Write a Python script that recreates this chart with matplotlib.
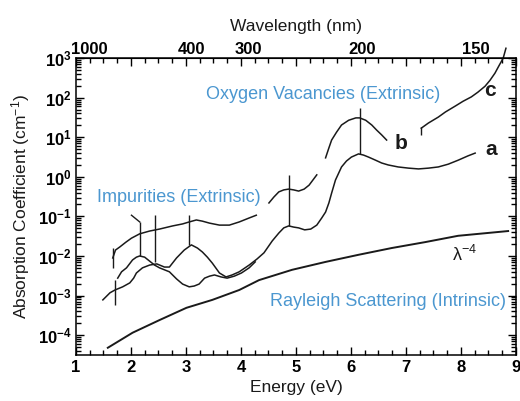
import numpy as np
import matplotlib
matplotlib.use('Agg')
import matplotlib.pyplot as plt
from matplotlib.ticker import MultipleLocator, LogLocator, NullFormatter

plt.rcParams['font.family'] = ['Liberation Sans', 'DejaVu Sans']
plt.rcParams['mathtext.fontset'] = 'custom'
plt.rcParams['mathtext.rm'] = 'Liberation Sans'
plt.rcParams['mathtext.bf'] = 'Liberation Sans:bold'
plt.rcParams['mathtext.it'] = 'Liberation Sans:italic'

# ---- data (energy in eV, log10 of absorption in cm^-1) ----
# Rayleigh scattering (lambda^-4)
ray_E = [1.58, 2.03, 2.52, 3.01, 3.48, 3.97, 4.33, 4.93, 5.54, 6.14, 6.74, 7.35, 7.95, 8.86]
ray_log = [-4.32, -3.94, -3.62, -3.31, -3.11, -2.86, -2.61, -2.35, -2.15, -1.97, -1.80, -1.65, -1.49, -1.37]

# curve a
a_E = [1.49, 1.62, 1.71, 1.85, 1.98, 2.05, 2.10, 2.21, 2.34, 2.47, 2.61, 2.70, 2.83, 2.97,
       3.10, 3.21, 3.30, 3.39, 3.48, 3.61, 3.73, 3.84, 3.97, 4.15, 4.29, 4.42, 4.57, 4.69,
       4.78, 4.87, 4.96, 5.05, 5.16, 5.27, 5.38, 5.47, 5.54, 5.60, 5.65, 5.72, 5.83, 5.92,
       6.01, 6.14, 6.23, 6.32, 6.45, 6.56, 6.68, 6.86, 7.05, 7.23, 7.41, 7.59, 7.77, 7.95,
       8.13, 8.26]
a_log = [-3.11, -2.93, -2.86, -2.78, -2.68, -2.56, -2.43, -2.30, -2.23, -2.20, -2.28, -2.28,
         -2.05, -1.85, -1.72, -1.80, -1.90, -2.03, -2.18, -2.43, -2.53, -2.48, -2.40, -2.23,
         -2.08, -1.92, -1.62, -1.42, -1.29, -1.24, -1.27, -1.29, -1.34, -1.32, -1.22, -1.04,
         -0.89, -0.66, -0.41, -0.08, 0.25, 0.40, 0.50, 0.58, 0.55, 0.50, 0.42, 0.35, 0.30,
         0.25, 0.22, 0.20, 0.22, 0.25, 0.32, 0.42, 0.53, 0.60]

# second low-energy spectrum (peak near 2.2 eV), joins curve a near 4.2 eV
d_E = [1.76, 1.83, 1.92, 2.03, 2.10, 2.16, 2.25, 2.34, 2.43, 2.52, 2.61, 2.70, 2.83, 2.94,
       3.06, 3.15, 3.24, 3.34, 3.43, 3.52, 3.64, 3.75, 3.88, 4.01, 4.15, 4.26]
d_log = [-2.56, -2.40, -2.30, -2.10, -2.03, -2.00, -2.03, -2.13, -2.23, -2.30, -2.35, -2.40,
         -2.58, -2.71, -2.78, -2.76, -2.71, -2.56, -2.51, -2.48, -2.53, -2.56, -2.51, -2.43,
         -2.30, -2.15]

# curve b (three measured pieces)
b1_E = [1.67, 1.72, 1.80, 1.91, 2.01, 2.16, 2.34, 2.52, 2.76, 2.94, 3.06, 3.19, 3.30, 3.43,
        3.61, 3.79, 3.97, 4.15, 4.28]
b1_log = [-2.05, -1.85, -1.77, -1.65, -1.55, -1.44, -1.37, -1.32, -1.24, -1.19, -1.14, -1.09,
          -1.12, -1.17, -1.22, -1.22, -1.14, -1.04, -0.97]
b2_E = [4.51, 4.60, 4.69, 4.78, 4.87, 4.96, 5.05, 5.15, 5.24, 5.31, 5.38]
b2_log = [-0.66, -0.51, -0.38, -0.33, -0.31, -0.33, -0.36, -0.31, -0.21, -0.08, 0.05]
b3_E = [5.54, 5.60, 5.65, 5.74, 5.83, 5.96, 6.09, 6.16, 6.27, 6.38, 6.47, 6.56, 6.65]
b3_log = [0.48, 0.73, 0.93, 1.13, 1.31, 1.43, 1.49, 1.49, 1.43, 1.31, 1.18, 1.06, 0.93]

# curve c
c_E = [7.28, 7.41, 7.59, 7.72, 7.90, 8.04, 8.19, 8.31, 8.44, 8.53, 8.62, 8.69, 8.77, 8.82]
c_log = [1.23, 1.36, 1.51, 1.64, 1.79, 1.91, 2.02, 2.14, 2.29, 2.44, 2.62, 2.80, 3.00, 3.25]

# vertical marker bars: energy, log top, log bottom
bar_E = [1.67, 1.71, 2.16, 2.43, 3.06, 4.87, 6.16, 7.28]
bar_top = [-1.80, -2.61, -1.14, -0.97, -0.97, 0.05, 1.74, 1.26]
bar_bot = [-2.30, -3.24, -2.00, -2.15, -1.72, -1.24, 0.58, 1.06]

wl_ticks = [1000, 400, 300, 200, 150]

fig = plt.figure(figsize=(5.2, 4.01), dpi=100)
ax = fig.add_axes([0.146, 0.115, 0.846, 0.74])

lc = '#1a1a1a'
ax.plot(ray_E, 10 ** np.array(ray_log), color=lc, lw=1.4)
ax.plot(a_E, 10 ** np.array(a_log), color=lc, lw=1.1)
ax.plot(d_E, 10 ** np.array(d_log), color=lc, lw=1.1)
for xs, ys in [(b1_E, b1_log), (b2_E, b2_log), (b3_E, b3_log)]:
    ax.plot(xs, 10 ** np.array(ys), color=lc, lw=1.1)
ax.plot(c_E, 10 ** np.array(c_log), color=lc, lw=1.1, clip_on=False)
ax.vlines(bar_E, 10 ** np.array(bar_bot), 10 ** np.array(bar_top), color=lc, lw=1.0)
# small slanted lead-in on the 2.2 eV bar
ax.plot([2.01, 2.16], [10 ** -0.97, 10 ** -1.14], color=lc, lw=1.0)

ax.set_yscale('log')
ax.set_xlim(1, 9)
ax.set_ylim(10 ** -4.5, 1e3)

ax.xaxis.set_major_locator(MultipleLocator(1))
ax.xaxis.set_minor_locator(MultipleLocator(0.25))
ax.set_yticks([10.0 ** k for k in range(-4, 4)])
ax.set_yticklabels([r'$\mathbf{10^{%d}}$' % k for k in range(-4, 4)])
ax.yaxis.set_minor_locator(LogLocator(base=10, subs=np.arange(2, 10)))
ax.yaxis.set_minor_formatter(NullFormatter())
ax.set_xticks(range(1, 10))
ax.set_xticklabels([str(k) for k in range(1, 10)], fontweight='bold')
ax.tick_params(which='both', direction='in', top=True, right=True, labelsize=12, width=1.0)
ax.tick_params(which='major', length=6)
ax.tick_params(which='minor', length=3.5)
ax.tick_params(axis='y', pad=3)
for s in ax.spines.values():
    s.set_linewidth(1.1)

sec = ax.secondary_xaxis('top', functions=(lambda e: 1240.0 / np.clip(e, 1e-6, None),
                                           lambda w: 1240.0 / np.clip(w, 1e-6, None)))
sec.set_xticks(wl_ticks)
sec.set_xticklabels([str(w) for w in wl_ticks], fontweight='bold', fontsize=12)
sec.tick_params(length=0, pad=1)
sec.set_xlabel('Wavelength (nm)', fontsize=12.5, color=lc, labelpad=8)

ax.set_xlabel('Energy (eV)', fontsize=12.5, color=lc, labelpad=4)
ax.set_ylabel(r'Absorption Coefficient (cm$^{\mathregular{-1}}$)', fontsize=12.5, color=lc, labelpad=4)

blue = '#4b97d0'
ax.text(5.49, 10 ** 2.07, 'Oxygen Vacancies (Extrinsic)', color=blue, fontsize=13,
        ha='center', va='center')
ax.text(2.88, 10 ** -0.53, 'Impurities (Extrinsic)', color=blue, fontsize=13,
        ha='center', va='center')
ax.text(6.68, 10 ** -3.16, 'Rayleigh Scattering (Intrinsic)', color=blue, fontsize=13,
        ha='center', va='center')
ax.text(8.06, 10 ** -1.97, r'$\mathregular{\lambda^{-4}}$', color=lc, fontsize=13,
        ha='center', va='center')
ax.text(8.44, 10 ** 0.68, 'a', color=lc, fontsize=15, fontweight='bold', ha='left', va='center')
ax.text(6.80, 10 ** 0.85, 'b', color=lc, fontsize=15, fontweight='bold', ha='left', va='center')
ax.text(8.42, 10 ** 2.19, 'c', color=lc, fontsize=15, fontweight='bold', ha='left', va='center')

fig.savefig('out.png', dpi=100)
